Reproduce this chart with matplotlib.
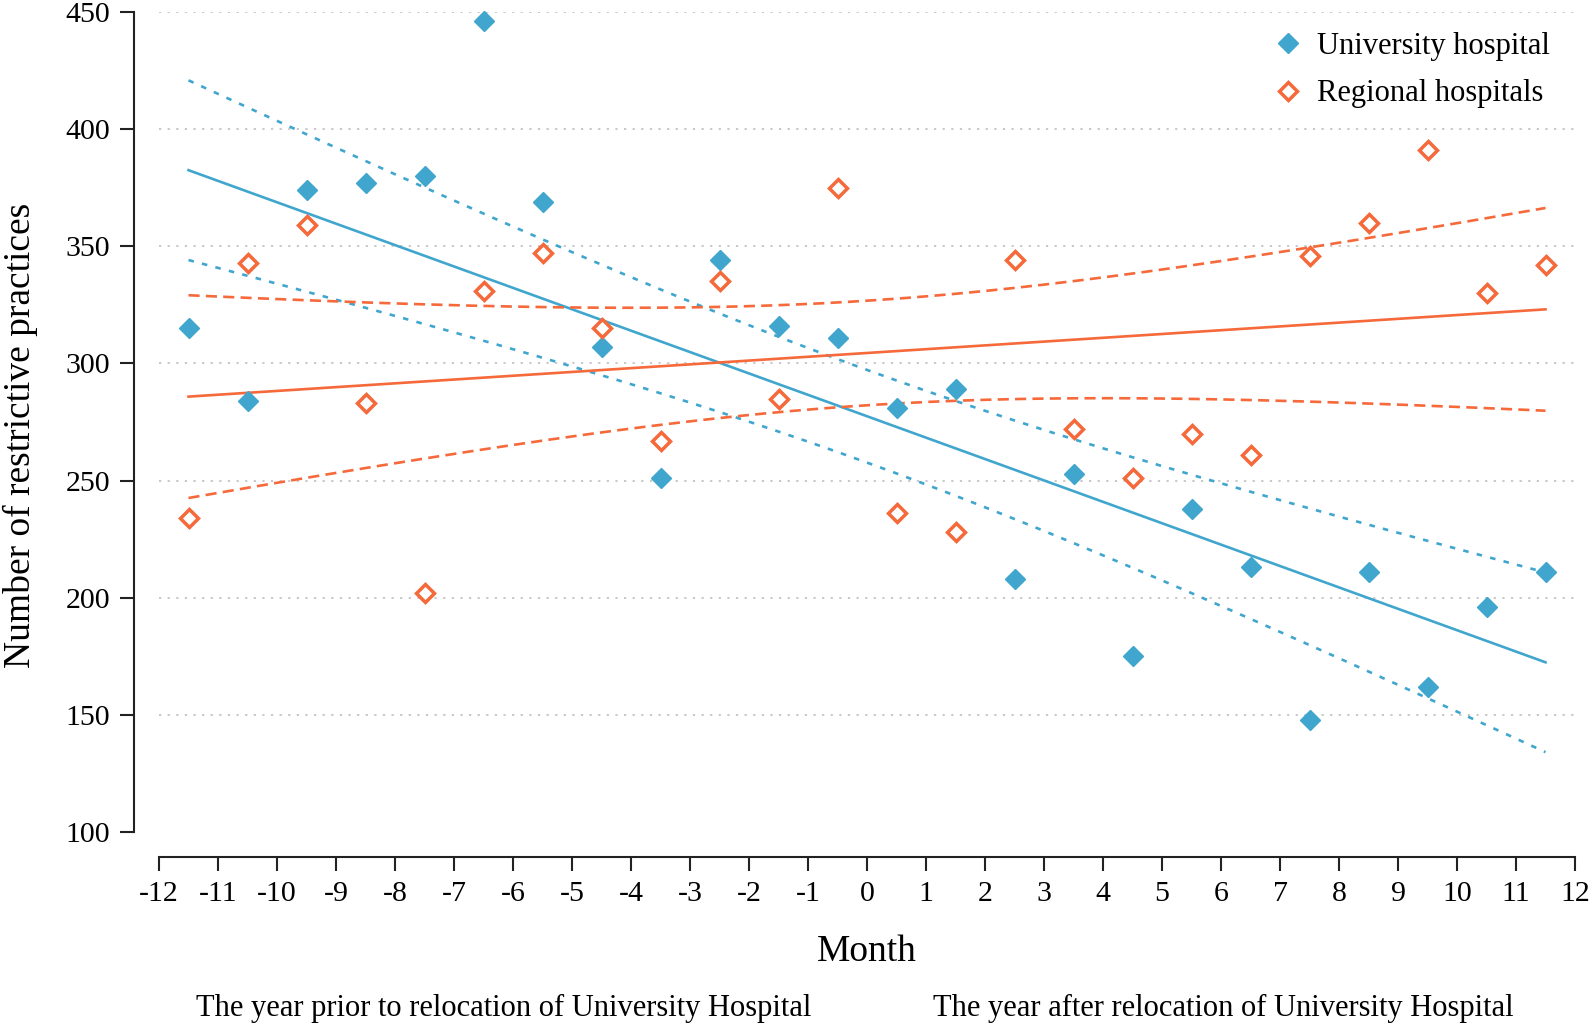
import numpy as np
import matplotlib
matplotlib.use("Agg")
import matplotlib.pyplot as plt

plt.rcParams['font.family'] = ['Liberation Serif', 'DejaVu Serif']
plt.rcParams['lines.scale_dashes'] = False

months = [-11.5, -10.5, -9.5, -8.5, -7.5, -6.5, -5.5, -4.5, -3.5, -2.5, -1.5, -0.5,
          0.5, 1.5, 2.5, 3.5, 4.5, 5.5, 6.5, 7.5, 8.5, 9.5, 10.5, 11.5]
university = [315, 284, 374, 377, 380, 446, 369, 307, 251, 344, 316, 311,
              281, 289, 208, 253, 175, 238, 213, 148, 211, 162, 196, 211]
regional = [234, 343, 359, 283, 202, 331, 347, 315, 267, 335, 285, 375,
            236, 228, 344, 272, 251, 270, 261, 346, 360, 391, 330, 342]
xticks = list(range(-12, 13))
yticks = [100, 150, 200, 250, 300, 350, 400, 450]
labels = ["University hospital", "Regional hospitals"]
period_labels = ["The year prior to relocation of University Hospital",
                 "The year after relocation of University Hospital"]

BLUE = "#40a6ce"
ORANGE = "#f5693a"
T_CRIT = 2.074  # 95% two-sided, df = 22

W, H = 1594, 1028
fig = plt.figure(figsize=(W / 100, H / 100), dpi=100)
ax = fig.add_axes([159 / W, (H - 832) / H, (1575 - 159) / W, (832 - 12) / H])
ax.set_xlim(-12, 12)
ax.set_ylim(100, 450)

for t in yticks[1:]:
    ax.axhline(t, color="#c8c8c8", lw=1.4, linestyle=(0, (1.6, 4.6)), zorder=0)


def fit_ci(x, y):
    x = np.asarray(x, float)
    y = np.asarray(y, float)
    n = len(x)
    b, a = np.polyfit(x, y, 1)
    resid = y - (a + b * x)
    s = np.sqrt(np.sum(resid ** 2) / (n - 2))
    xm = x.mean()
    sxx = np.sum((x - xm) ** 2)
    xs = np.linspace(x.min(), x.max(), 200)
    yhat = a + b * xs
    se = s * np.sqrt(1 / n + (xs - xm) ** 2 / sxx)
    return xs, yhat, yhat - T_CRIT * se, yhat + T_CRIT * se


for yv, col, dash in [(university, BLUE, (0, (4.0, 6.0))), (regional, ORANGE, (0, (8, 4.5)))]:
    xs, yh, lo, hi = fit_ci(months, yv)
    ax.plot(xs, yh, color=col, lw=1.9, zorder=2)
    ax.plot(xs, lo, color=col, lw=1.9, linestyle=dash, zorder=2)
    ax.plot(xs, hi, color=col, lw=1.9, linestyle=dash, zorder=2)

ax.plot(months, university, linestyle="none", marker="D", ms=10.3, color=BLUE,
        mec=BLUE, mew=1, label=labels[0], clip_on=False, zorder=3)
ax.plot(months, regional, linestyle="none", marker="D", ms=9.3, mfc="white",
        mec=ORANGE, mew=2.5, label=labels[1], clip_on=False, zorder=3)

for s in ["top", "right"]:
    ax.spines[s].set_visible(False)
ax.spines["left"].set_position(("outward", 18))
ax.spines["bottom"].set_position(("outward", 18))
for s in ["left", "bottom"]:
    ax.spines[s].set_color("#222222")
    ax.spines[s].set_linewidth(1.5)

ax.set_xticks(xticks)
ax.set_xticklabels([str(t) for t in xticks])
ax.set_yticks(yticks)
ax.tick_params(axis="both", length=10, width=1.5, color="#222222", labelsize=21.5, pad=7)

ax.set_xlabel("Month", fontsize=27, labelpad=20)
ax.set_ylabel("Number of restrictive practices", fontsize=27)
ax.yaxis.set_label_coords((20 - 159) / (1575 - 159), (832 - 435) / (832 - 12))
ax.yaxis.label.set_horizontalalignment("center")
ax.yaxis.label.set_verticalalignment("center")

fig.text(504 / W, 1 - 1008 / H, period_labels[0], fontsize=22, ha="center", va="center")
fig.text(1223 / W, 1 - 1008 / H, period_labels[1], fontsize=22, ha="center", va="center")

leg = ax.legend(loc="upper left", bbox_to_anchor=((1288 - 17) / W, 1 - 32 / H),
                bbox_transform=fig.transFigure, frameon=False, fontsize=22,
                handlelength=1.1, handletextpad=0.4, labelspacing=0.6,
                borderpad=0, borderaxespad=0)

fig.savefig("out.png", dpi=100)
